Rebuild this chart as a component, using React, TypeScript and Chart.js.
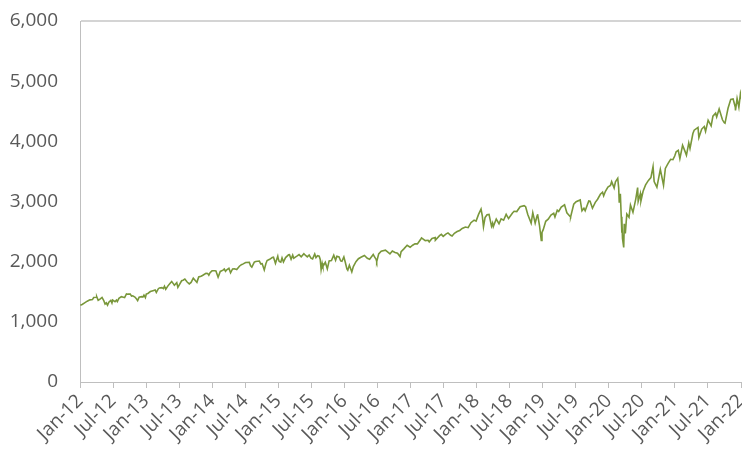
import React, { useEffect, useRef } from 'react';
import { Chart, registerables } from 'chart.js';

Chart.register(...registerables);

// X-axis tick labels (every 6 months)
const tickLabels: string[] = [
  'Jan-12', 'Jul-12', 'Jan-13', 'Jul-13', 'Jan-14', 'Jul-14', 'Jan-15', 'Jul-15',
  'Jan-16', 'Jul-16', 'Jan-17', 'Jul-17', 'Jan-18', 'Jul-18', 'Jan-19', 'Jul-19',
  'Jan-20', 'Jul-20', 'Jan-21', 'Jul-21', 'Jan-22',
];

// Y-axis range
const yMin = 0;
const yMax = 6000;
const yStep = 1000;

// Index level by date (month-day, value), one array per year
const y2012: [string, number][] = [
  ['01-03', 1277], ['01-13', 1289], ['01-27', 1316], ['02-10', 1343], ['02-24', 1365], ['03-09', 1370],
  ['03-16', 1404], ['03-30', 1408], ['04-02', 1419], ['04-10', 1358], ['04-20', 1378], ['05-01', 1406],
  ['05-10', 1358], ['05-18', 1295], ['05-25', 1317], ['06-01', 1278], ['06-08', 1325], ['06-19', 1357],
  ['06-25', 1313], ['06-29', 1362], ['07-12', 1334], ['07-20', 1362], ['07-25', 1338], ['08-03', 1391],
  ['08-17', 1418], ['08-28', 1410], ['09-04', 1404], ['09-14', 1465], ['09-21', 1460], ['10-05', 1461],
  ['10-12', 1428], ['10-19', 1433], ['10-31', 1412], ['11-09', 1380], ['11-15', 1353], ['11-23', 1409],
  ['12-07', 1418], ['12-14', 1413], ['12-20', 1443], ['12-28', 1402],
];
const y2013: [string, number][] = [
  ['01-02', 1462], ['01-11', 1472], ['01-25', 1503], ['02-08', 1518], ['02-19', 1530], ['02-25', 1488],
  ['03-08', 1551], ['03-14', 1563], ['03-28', 1569], ['04-05', 1553], ['04-11', 1593], ['04-18', 1541],
  ['04-30', 1598], ['05-10', 1633], ['05-21', 1669], ['05-31', 1631], ['06-05', 1608], ['06-18', 1651],
  ['06-24', 1573], ['07-05', 1632], ['07-15', 1683], ['07-23', 1692], ['08-02', 1710], ['08-15', 1662],
  ['08-27', 1631], ['09-06', 1655], ['09-18', 1726], ['09-30', 1682], ['10-08', 1656], ['10-18', 1745],
  ['10-31', 1757], ['11-08', 1771], ['11-27', 1808], ['12-06', 1805], ['12-13', 1775], ['12-20', 1818],
  ['12-31', 1848],
];
const y2014: [string, number][] = [
  ['01-15', 1848], ['01-22', 1844], ['02-03', 1742], ['02-14', 1838], ['02-28', 1859], ['03-07', 1878],
  ['03-14', 1841], ['03-21', 1866], ['04-02', 1890], ['04-11', 1815], ['04-22', 1879], ['05-02', 1881],
  ['05-15', 1870], ['05-30', 1924], ['06-10', 1950], ['06-20', 1963], ['07-03', 1985], ['07-24', 1988],
  ['07-31', 1931], ['08-07', 1910], ['08-21', 1992], ['08-29', 2003], ['09-18', 2011], ['09-25', 1965],
  ['10-03', 1968], ['10-15', 1862], ['10-24', 1965], ['10-31', 2018], ['11-14', 2039], ['11-28', 2068],
  ['12-05', 2075], ['12-16', 1972], ['12-29', 2091], ['12-31', 2059],
];
const y2015: [string, number][] = [
  ['01-06', 2003], ['01-15', 1992], ['01-22', 2063], ['01-30', 1995], ['02-10', 2068], ['02-25', 2114],
  ['03-02', 2117], ['03-11', 2040], ['03-20', 2108], ['03-26', 2057], ['04-06', 2080], ['04-14', 2096],
  ['04-24', 2117], ['05-06', 2080], ['05-21', 2131], ['05-29', 2107], ['06-09', 2080], ['06-19', 2110],
  ['06-29', 2058], ['07-08', 2046], ['07-20', 2128], ['07-27', 2068], ['08-05', 2099], ['08-14', 2091],
  ['08-20', 2036], ['08-25', 1868], ['08-31', 1972], ['09-04', 1921], ['09-17', 1990], ['09-28', 1881],
  ['10-08', 2013], ['10-21', 2018], ['11-03', 2109], ['11-13', 2023], ['11-20', 2089], ['12-02', 2079],
  ['12-11', 2012], ['12-18', 2005], ['12-29', 2078],
];
const y2016: [string, number][] = [
  ['01-06', 1990], ['01-15', 1880], ['01-20', 1859], ['01-29', 1940], ['02-11', 1829], ['02-19', 1918],
  ['03-04', 1999], ['03-18', 2049], ['04-01', 2073], ['04-20', 2102], ['05-06', 2057], ['05-19', 2040],
  ['06-08', 2119], ['06-16', 2077], ['06-24', 2037], ['06-27', 2001], ['07-08', 2130], ['07-22', 2175],
  ['08-15', 2191], ['09-09', 2128], ['09-22', 2177], ['10-07', 2153], ['10-21', 2141], ['11-04', 2085],
  ['11-10', 2167], ['11-25', 2213], ['12-13', 2272], ['12-30', 2239],
];
const y2017: [string, number][] = [
  ['01-13', 2274], ['01-26', 2296], ['02-08', 2295], ['02-24', 2367], ['03-01', 2396], ['03-22', 2349],
  ['04-07', 2355], ['04-13', 2329], ['04-28', 2384], ['05-16', 2400], ['05-17', 2357], ['06-09', 2432],
  ['06-19', 2453], ['06-29', 2420], ['07-14', 2459], ['07-26', 2478], ['08-10', 2438], ['08-18', 2426],
  ['08-31', 2472], ['09-15', 2500], ['09-29', 2519], ['10-13', 2553], ['10-31', 2575], ['11-15', 2565],
  ['11-30', 2648], ['12-18', 2690], ['12-29', 2674],
];
const y2018: [string, number][] = [
  ['01-12', 2786], ['01-26', 2873], ['02-02', 2762], ['02-08', 2581], ['02-16', 2732], ['02-26', 2780],
  ['03-09', 2786], ['03-23', 2588], ['03-29', 2641], ['04-02', 2582], ['04-18', 2708], ['05-03', 2630],
  ['05-15', 2711], ['05-29', 2689], ['06-12', 2787], ['06-25', 2717], ['07-17', 2809], ['07-26', 2837],
  ['08-10', 2833], ['08-29', 2914], ['09-20', 2930], ['09-28', 2914], ['10-10', 2785], ['10-29', 2641],
  ['11-07', 2814], ['11-20', 2641], ['11-30', 2760], ['12-03', 2790], ['12-14', 2600], ['12-24', 2351],
  ['12-28', 2486],
];
const y2019: [string, number][] = [
  ['01-04', 2532], ['01-18', 2671], ['02-01', 2707], ['02-15', 2776], ['03-01', 2804], ['03-08', 2743],
  ['03-21', 2855], ['03-29', 2834], ['04-12', 2907], ['04-30', 2946], ['05-13', 2812], ['05-31', 2752],
  ['06-03', 2744], ['06-20', 2954], ['07-03', 2996], ['07-26', 3026], ['08-05', 2845], ['08-16', 2889],
  ['08-23', 2847], ['09-12', 3009], ['09-19', 3006], ['10-02', 2888], ['10-18', 2986], ['10-31', 3038],
  ['11-15', 3120], ['11-27', 3154], ['12-03', 3093], ['12-13', 3169], ['12-27', 3241],
];
const y2020: [string, number][] = [
  ['01-10', 3265], ['01-17', 3330], ['01-31', 3226], ['02-07', 3328], ['02-19', 3386], ['02-24', 3226],
  ['02-27', 2979], ['03-04', 3130], ['03-09', 2747], ['03-12', 2481], ['03-13', 2711], ['03-16', 2386],
  ['03-23', 2237], ['03-26', 2630], ['04-01', 2471], ['04-09', 2790], ['04-21', 2737], ['04-29', 2940],
  ['05-13', 2820], ['05-29', 3044], ['06-08', 3232], ['06-11', 3002], ['06-23', 3131], ['06-26', 3009],
  ['07-08', 3170], ['07-22', 3276], ['08-07', 3351], ['08-21', 3397], ['09-02', 3580], ['09-08', 3332],
  ['09-23', 3237], ['10-12', 3535], ['10-30', 3270], ['11-09', 3550], ['11-24', 3635], ['12-08', 3702],
  ['12-21', 3695], ['12-31', 3756],
];
const y2021: [string, number][] = [
  ['01-08', 3825], ['01-20', 3851], ['01-29', 3714], ['02-12', 3934], ['02-25', 3829], ['03-04', 3768],
  ['03-17', 3974], ['03-24', 3881], ['04-09', 4129], ['04-16', 4185], ['05-07', 4232], ['05-12', 4063],
  ['05-28', 4204], ['06-11', 4247], ['06-18', 4166], ['07-02', 4352], ['07-19', 4258], ['07-29', 4419],
  ['08-13', 4468], ['08-19', 4406], ['09-02', 4537], ['09-20', 4358], ['09-30', 4308], ['10-04', 4300],
  ['10-21', 4549], ['11-05', 4697], ['11-18', 4704], ['11-30', 4567], ['12-01', 4513], ['12-10', 4712],
  ['12-20', 4568], ['12-29', 4793], ['12-31', 4766],
];

const yearSeries: [number, [string, number][]][] = [
  [2012, y2012], [2013, y2013], [2014, y2014], [2015, y2015], [2016, y2016], [2017, y2017],
  [2018, y2018], [2019, y2019], [2020, y2020], [2021, y2021],
];

function toMonthOffset(year: number, md: string): number {
  const [m, d] = md.split('-').map(Number);
  const dim = new Date(year, m, 0).getDate();
  return (year - 2012) * 12 + (m - 1) + (d - 1) / dim;
}

export default function App() {
  const ref = useRef<HTMLCanvasElement | null>(null);

  useEffect(() => {
    document.body.style.margin = '0';
    const points: { x: number; y: number }[] = [];
    yearSeries.forEach(([yr, arr]) => {
      arr.forEach(([md, v]) => points.push({ x: toMonthOffset(yr, md), y: v }));
    });
    const font = { family: '"Open Sans", sans-serif', size: 19 };
    const chart = new Chart(ref.current as HTMLCanvasElement, {
      type: 'line',
      data: {
        datasets: [
          {
            data: points,
            borderColor: '#79973a',
            borderWidth: 1.6,
            pointRadius: 0,
            tension: 0,
            fill: false,
          },
        ],
      },
      options: {
        responsive: false,
        animation: false,
        parsing: false,
        layout: { padding: { top: 21, right: 1, left: 0, bottom: 0 } },
        plugins: { legend: { display: false }, tooltip: { enabled: false } },
        scales: {
          x: {
            type: 'linear',
            min: 0,
            max: 120,
            afterFit: (s: any) => { s.height = 72; s.paddingRight = 0; s.paddingLeft = 0; },
            afterBuildTicks: (s: any) => {
              s.ticks = tickLabels.map((_, i) => ({ value: i * 6 }));
            },
            ticks: {
              autoSkip: false,
              maxRotation: 45,
              minRotation: 45,
              color: '#595959',
              font,
              padding: 2,
              callback: (v: any) => tickLabels[Math.round(Number(v) / 6)] ?? '',
            },
            grid: { drawOnChartArea: false, drawTicks: true, tickLength: 6, color: '#bfbfbf' },
            border: { display: true, color: '#bfbfbf', dash: [2, 2] },
          },
          y: {
            min: yMin,
            max: yMax,
            afterFit: (s: any) => { s.width = 80; s.paddingTop = 0; },
            ticks: {
              stepSize: yStep,
              color: '#595959',
              font,
              padding: 22,
              callback: (v: any) => Number(v).toLocaleString('en-US'),
            },
            grid: {
              drawTicks: false,
              color: (c: any) => (c.tick && c.tick.value === yMax ? '#d4d4d4' : 'rgba(0,0,0,0)'),
              lineWidth: (c: any) => (c.tick && c.tick.value === yMax ? 2 : 1),
            },
            border: { display: true, color: '#bfbfbf' },
          },
        },
      },
    });
    return () => chart.destroy();
  }, []);

  return (
    <div style={{ position: 'absolute', left: 0, top: 0, width: 742, height: 454 }}>
      <canvas ref={ref} width={742} height={454} />
    </div>
  );
}
